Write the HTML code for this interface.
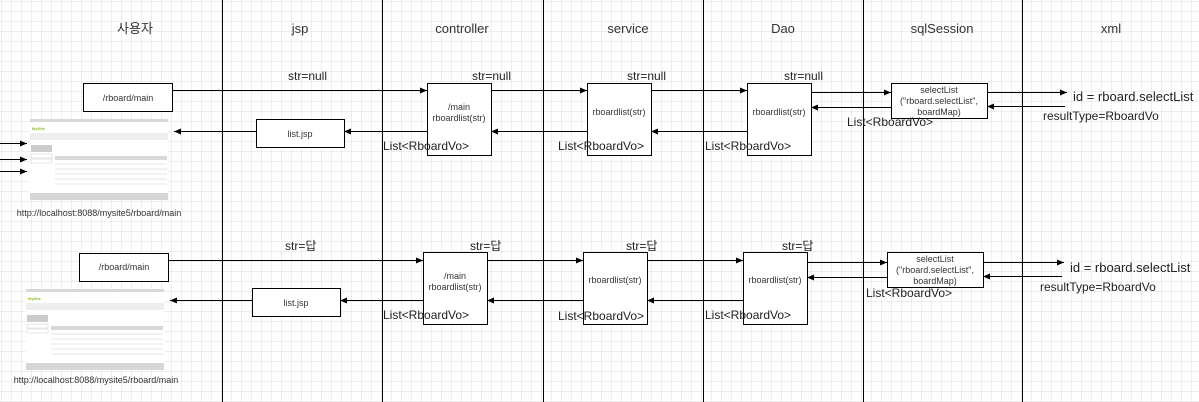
<!DOCTYPE html>
<html><head><meta charset="utf-8"><style>
html,body{margin:0;padding:0;background:#fff;}
svg{display:block;font-family:"Liberation Sans","Noto Sans CJK KR",sans-serif;}
</style></head><body>
<svg width="1199" height="402" viewBox="0 0 1199 402" xmlns="http://www.w3.org/2000/svg">
<defs>
<pattern id="g" width="10" height="10" patternUnits="userSpaceOnUse" x="2" y="2">
<path d="M10 0V10M0 10H10" fill="none" stroke="#dedede" stroke-width="1"/>
</pattern>
<marker id="a" markerWidth="8" markerHeight="8" refX="7" refY="4" orient="auto" markerUnits="userSpaceOnUse">
<path d="M0 1L7 4L0 7Z" fill="#000"/></marker>
<g id="shot">
<rect x="0" y="0" width="138" height="81" fill="#fff"/>
<rect x="0" y="0" width="138" height="3" fill="#d8d8d8"/>
<text x="2" y="11" font-size="4" fill="#8ab833" font-weight="bold">MySite</text>
<rect x="0" y="14" width="138" height="7" fill="#eee"/>
<rect x="1" y="26" width="21" height="7" fill="#ccc"/>
<rect x="1" y="35" width="21" height="4" fill="#fff" stroke="#ccc" stroke-width="0.5"/>
<rect x="1" y="40" width="21" height="4" fill="#fff" stroke="#ccc" stroke-width="0.5"/>
<rect x="25" y="37" width="112" height="4" fill="#d8d8d8"/>
<path d="M25 45H137M25 50H137M25 55H137M25 60H137M25 65H137" stroke="#ccc" stroke-width="0.6"/>
<rect x="0" y="74" width="138" height="7" fill="#d6d6d6"/>
</g>
</defs>
<rect width="1199" height="402" fill="url(#g)"/>
<g stroke="#000" stroke-width="1">
<path d="M222.5 0V402M382.5 0V402M543.5 0V402M703.5 0V402M863.5 0V402M1022.5 0V402"/>
</g>
<g font-size="13" fill="#333" text-anchor="middle">
<text x="135" y="33">사용자</text><text x="300" y="33">jsp</text><text x="462" y="33">controller</text>
<text x="628" y="33">service</text><text x="783" y="33">Dao</text><text x="942" y="33">sqlSession</text><text x="1111" y="33">xml</text>
</g>

<!-- Row 1 -->
<g stroke="#000" stroke-width="1" fill="none">
<line x1="172" y1="90.5" x2="427" y2="90.5" marker-end="url(#a)"/>
<line x1="491" y1="90.5" x2="587" y2="90.5" marker-end="url(#a)"/>
<line x1="651" y1="90.5" x2="747" y2="90.5" marker-end="url(#a)"/>
<line x1="811" y1="92.5" x2="891" y2="92.5" marker-end="url(#a)"/>
<line x1="987" y1="92.5" x2="1067" y2="92.5" marker-end="url(#a)"/>
<line x1="1065" y1="106.5" x2="987" y2="106.5" marker-end="url(#a)"/>
<line x1="891" y1="107.5" x2="811" y2="107.5" marker-end="url(#a)"/>
<line x1="747" y1="131.5" x2="651" y2="131.5" marker-end="url(#a)"/>
<line x1="587" y1="131.5" x2="491" y2="131.5" marker-end="url(#a)"/>
<line x1="427" y1="131.5" x2="344" y2="131.5" marker-end="url(#a)"/>
<line x1="256" y1="131.5" x2="174" y2="131.5" marker-end="url(#a)"/>
<line x1="0" y1="143.5" x2="27" y2="143.5" marker-end="url(#a)"/>
<line x1="0" y1="159.5" x2="27" y2="159.5" marker-end="url(#a)"/>
<line x1="0" y1="171.5" x2="27" y2="171.5" marker-end="url(#a)"/>
</g>
<g stroke="#000" stroke-width="1" fill="#fff">
<rect x="83.5" y="83.5" width="89" height="28"/>
<rect x="256.5" y="119.5" width="88" height="28"/>
<rect x="427.5" y="83.5" width="64" height="72"/>
<rect x="587.5" y="83.5" width="64" height="72"/>
<rect x="747.5" y="83.5" width="64" height="72"/>
<rect x="891.5" y="83.5" width="96" height="35"/>
</g>
<use href="#shot" x="30" y="119"/>
<g font-size="9" fill="#333" text-anchor="middle">
<text x="128" y="101">/rboard/main</text>
<text x="300" y="137">list.jsp</text>
<text x="459" y="110">/main</text><text x="459" y="121">rboardlist(str)</text>
<text x="619" y="115">rboardlist(str)</text>
<text x="779" y="115">rboardlist(str)</text>
<text x="939" y="93">selectList</text><text x="939" y="104">("rboard.selectList",</text><text x="939" y="115">boardMap)</text>
<text x="99" y="216">http://localhost:8088/mysite5/rboard/main</text>
</g>
<g font-size="12" fill="#222">
<text x="288" y="80">str=null</text><text x="472" y="80">str=null</text><text x="627" y="80">str=null</text><text x="784" y="80">str=null</text>
<text x="383" y="150">List&lt;RboardVo&gt;</text><text x="558" y="150">List&lt;RboardVo&gt;</text><text x="705" y="150">List&lt;RboardVo&gt;</text>
<text x="847" y="126">List&lt;RboardVo&gt;</text>
<text x="1073" y="101" font-size="13">id = rboard.selectList</text>
<text x="1043" y="120">resultType=RboardVo</text>
</g>

<!-- Row 2 -->
<g stroke="#000" stroke-width="1" fill="none">
<line x1="168" y1="260.5" x2="423" y2="260.5" marker-end="url(#a)"/>
<line x1="487" y1="260.5" x2="583" y2="260.5" marker-end="url(#a)"/>
<line x1="647" y1="260.5" x2="743" y2="260.5" marker-end="url(#a)"/>
<line x1="807" y1="262.5" x2="887" y2="262.5" marker-end="url(#a)"/>
<line x1="983" y1="262.5" x2="1064" y2="262.5" marker-end="url(#a)"/>
<line x1="1062" y1="276.5" x2="983" y2="276.5" marker-end="url(#a)"/>
<line x1="887" y1="277.5" x2="807" y2="277.5" marker-end="url(#a)"/>
<line x1="743" y1="300.5" x2="647" y2="300.5" marker-end="url(#a)"/>
<line x1="583" y1="300.5" x2="487" y2="300.5" marker-end="url(#a)"/>
<line x1="423" y1="300.5" x2="340" y2="300.5" marker-end="url(#a)"/>
<line x1="252" y1="300.5" x2="170" y2="300.5" marker-end="url(#a)"/>
</g>
<g stroke="#000" stroke-width="1" fill="#fff">
<rect x="79.5" y="253.5" width="89" height="28"/>
<rect x="252.5" y="288.5" width="88" height="28"/>
<rect x="423.5" y="252.5" width="64" height="72"/>
<rect x="583.5" y="252.5" width="64" height="72"/>
<rect x="743.5" y="252.5" width="64" height="72"/>
<rect x="887.5" y="252.5" width="96" height="35"/>
</g>
<use href="#shot" x="26" y="289"/>
<g font-size="9" fill="#333" text-anchor="middle">
<text x="124" y="270">/rboard/main</text>
<text x="296" y="306">list.jsp</text>
<text x="455" y="279">/main</text><text x="455" y="290">rboardlist(str)</text>
<text x="615" y="283">rboardlist(str)</text>
<text x="775" y="283">rboardlist(str)</text>
<text x="935" y="262">selectList</text><text x="935" y="273">("rboard.selectList",</text><text x="935" y="284">boardMap)</text>
<text x="96" y="383">http://localhost:8088/mysite5/rboard/main</text>
</g>
<g font-size="12" fill="#222">
<text x="285" y="250">str=답</text><text x="470" y="250">str=답</text><text x="626" y="250">str=답</text><text x="782" y="250">str=답</text>
<text x="383" y="319">List&lt;RboardVo&gt;</text><text x="558" y="320">List&lt;RboardVo&gt;</text><text x="705" y="319">List&lt;RboardVo&gt;</text>
<text x="866" y="297">List&lt;RboardVo&gt;</text>
<text x="1070" y="272" font-size="13">id = rboard.selectList</text>
<text x="1040" y="291">resultType=RboardVo</text>
</g>
</svg>
</body></html>
